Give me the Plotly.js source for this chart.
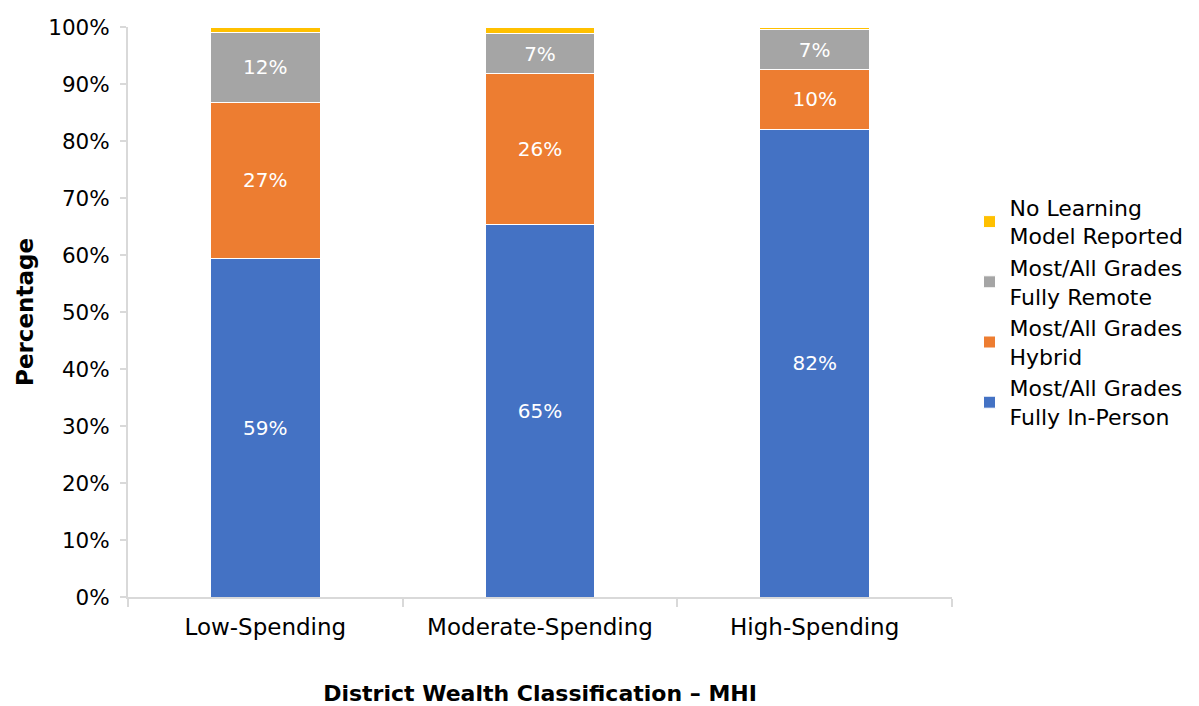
<!DOCTYPE html>
<html>
<head>
<meta charset="utf-8">
<script src="https://cdn.plot.ly/plotly-3.0.1.min.js"></script>
<style>html,body{margin:0;padding:0;background:#fff;}#chart{width:1199px;height:706px;}</style>
</head>
<body>
<div id="chart"></div>
<script>
const categories = ["Low-Spending", "Moderate-Spending", "High-Spending"];
const inPerson = [59.4, 65.4, 82.1];
const hybrid = [27.4, 26.4, 10.4];
const remote = [12.3, 7.0, 7.0];
const noModel = [0.9, 1.2, 0.5];
const seriesNames = [
  "Most/All Grades<br>Fully In-Person",
  "Most/All Grades<br>Hybrid",
  "Most/All Grades<br>Fully Remote",
  "No Learning<br>Model Reported"
];
const colors = ["#4472C4", "#ED7D31", "#A5A5A5", "#FFC000"];
const yTicks = [0,10,20,30,40,50,60,70,80,90,100];

const FONT = "DejaVu Sans, sans-serif";
const allSeries = [inPerson, hybrid, remote, noModel];
const traces = allSeries.map((vals, i) => ({
  type: "bar",
  x: categories,
  y: vals,
  name: seriesNames[i],
  marker: {color: colors[i], line: {color: "#ffffff", width: 1}},
  texttemplate: i < 3 ? "%{y:.0f}%" : "",
  textposition: i < 3 ? "inside" : "none",
  insidetextanchor: "middle",
  constraintext: "none",
  textfont: {color: "#ffffff", size: 20, family: FONT},
  hoverinfo: "none"
}));

const layout = {
  width: 1199, height: 706,
  barmode: "stack",
  bargap: 0.6,
  margin: {l: 128, r: 246, t: 27, b: 109},
  paper_bgcolor: "#ffffff",
  plot_bgcolor: "#ffffff",
  font: {family: FONT, color: "#000000"},
  showlegend: true,
  legend: {
    x: 1.02, xanchor: "left", y: 0.5, yanchor: "middle",
    traceorder: "reversed",
    font: {size: 22, family: FONT, color: "#000000"},
    itemwidth: 30,
    tracegroupgap: 7
  },
  xaxis: {
    showline: true, linecolor: "#d9d9d9", linewidth: 2,
    ticks: "outside", tickson: "boundaries", ticklen: 8, tickcolor: "#d9d9d9", tickwidth: 2,
    tickfont: {size: 23, family: FONT, color: "#000000"},
    ticklabelstandoff: 8,
    showgrid: false,
    title: {text: "<b>District Wealth Classification – MHI</b>", font: {size: 22, family: FONT, color: "#000000"}, standoff: 52}
  },
  yaxis: {
    range: [0, 100],
    tickvals: yTicks,
    ticktext: yTicks.map(v => v + "%"),
    showline: true, linecolor: "#d9d9d9", linewidth: 2,
    ticks: "outside", ticklen: 6, tickcolor: "#d9d9d9", tickwidth: 2,
    tickfont: {size: 21.5, family: FONT, color: "#000000"},
    ticklabelstandoff: 6,
    showgrid: false, zeroline: false,
    title: {text: "<b>Percentage</b>", font: {size: 23, family: FONT, color: "#000000"}, standoff: 8}
  }
};

Plotly.newPlot("chart", traces, layout, {displayModeBar: false, staticPlot: true});
</script>
</body>
</html>
